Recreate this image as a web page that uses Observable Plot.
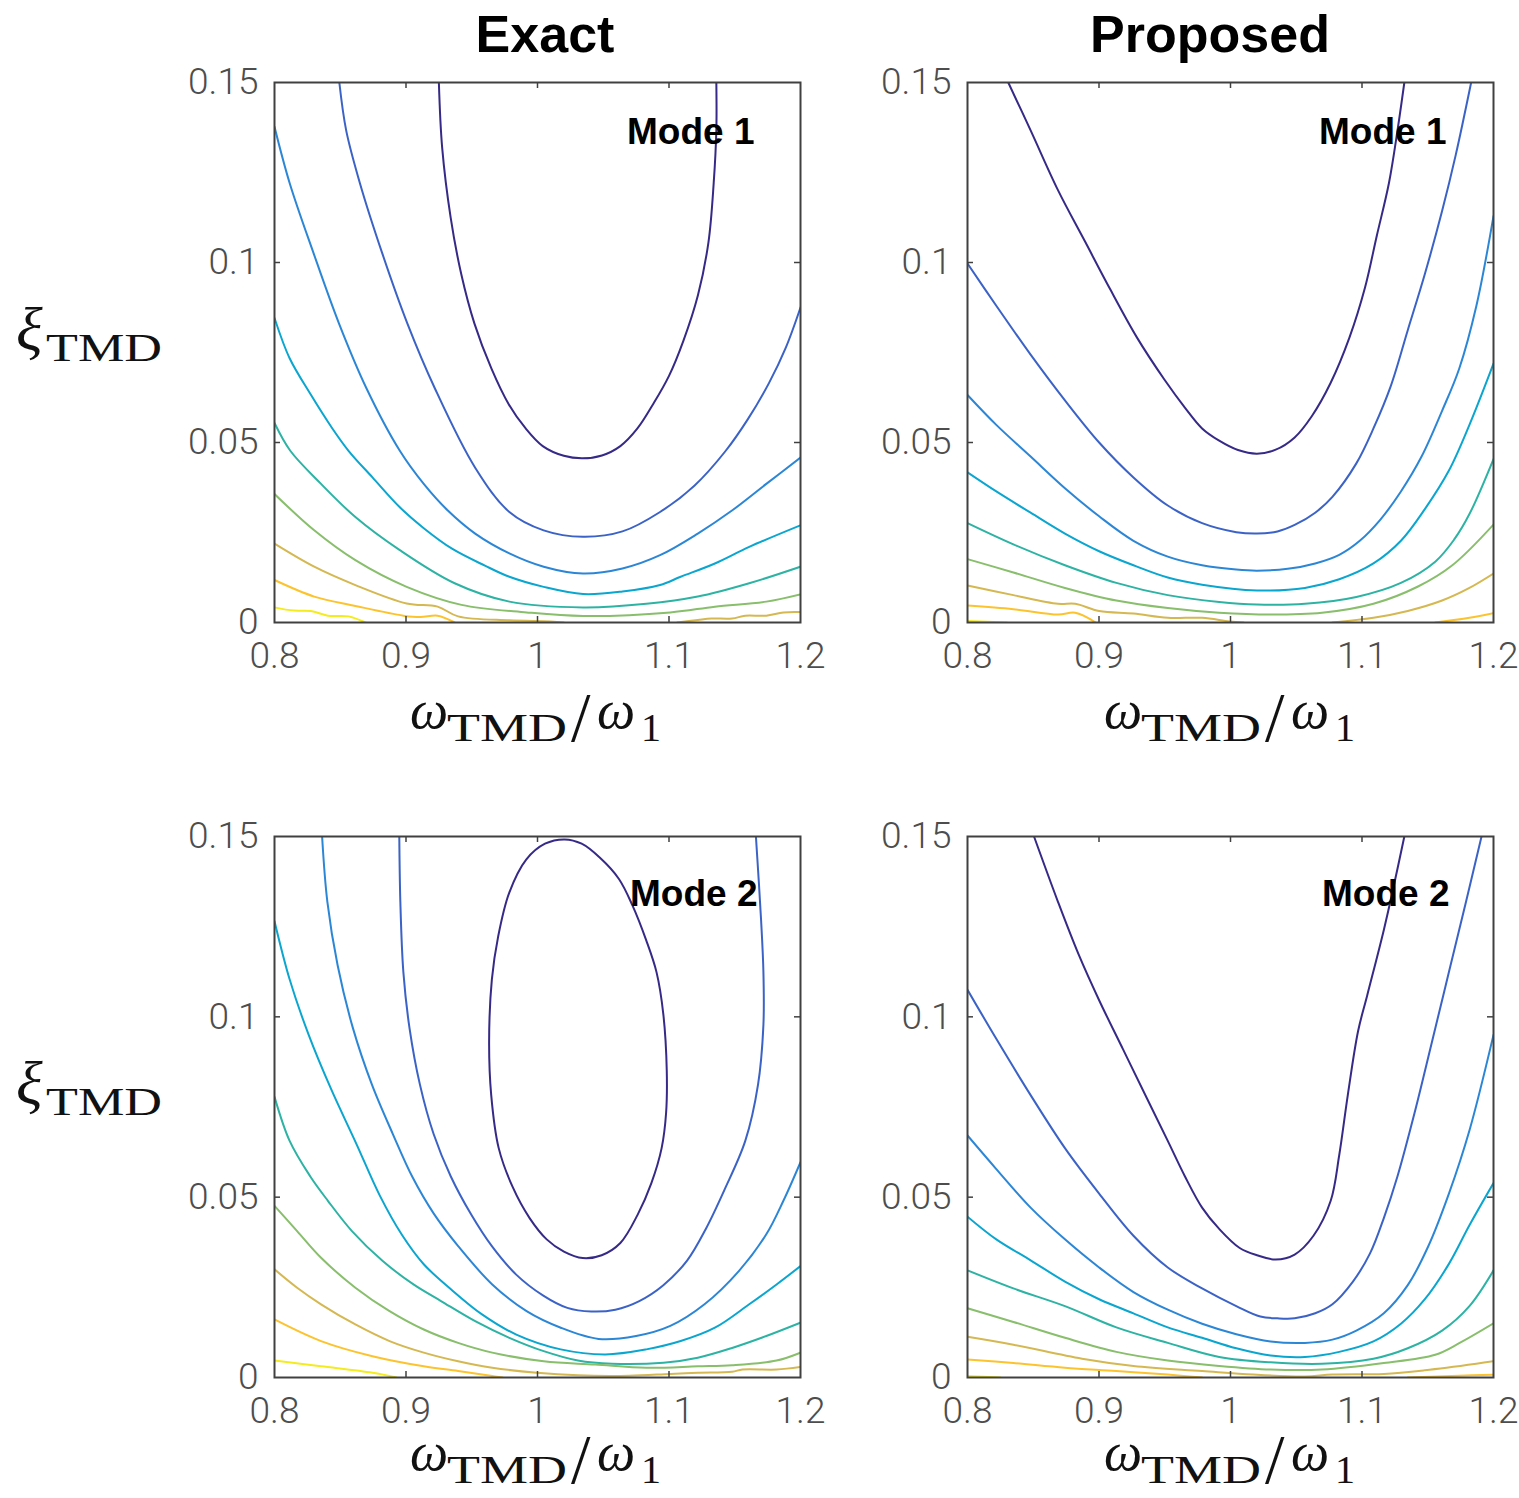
<!DOCTYPE html>
<html>
<head>
<meta charset="utf-8">
<script src="https://cdn.jsdelivr.net/npm/d3@7"></script>
<script src="https://cdn.jsdelivr.net/npm/@observablehq/plot@0.6"></script>
<style>
  body { margin: 0; background: #fff; }
  #page { position: relative; width: 1519px; height: 1498px; background: #fff; overflow: hidden; }
  .panel { position: absolute; }
  .panel svg { max-width: none; overflow: visible; }
  #overlay { position: absolute; left: 0; top: 0; pointer-events: none; }
</style>
</head>
<body>
<div id="page"></div>
<script>
// ---------------- data ----------------
const columnTitles = ["Exact", "Proposed"];
const modeLabels = ["Mode 1", "Mode 2"];
const xTicks = [0.8, 0.9, 1, 1.1, 1.2];
const yTicks = [0, 0.05, 0.1, 0.15];
const innerXTicks = [0.9, 1, 1.1];
const innerYTicks = [0.05, 0.1];
const levels = [0, 1, 2, 3, 4, 5, 6, 7, 8];
const parula = ["#352a87", "#3b62c6", "#2c86d6", "#0ba6cf", "#2db3a4", "#88be6c", "#d5b851", "#fcc32e", "#f4ec1e"];

// each contour segment: [level, [x, y, x, y, ...]]  (x = wTMD/w1, y = xiTMD)
const exactMode1 = [
  [0, [.925,.15, .9275,.1319, .934,.1124, .942,.0968, .952,.0831, .965,.0705, .978,.0607, .991,.0539, 1.004,.049, 1.02,.0463, 1.034,.0456, 1.049,.0464, 1.063,.049, 1.076,.0539, 1.088,.0607, 1.1,.0685, 1.111,.0783, 1.122,.0909, 1.13,.1056, 1.134,.1221, 1.136,.1367, 1.136,.15]],
  [1, [.8493,.15, .8545,.1367, .8649,.1221, .8819,.1026, .9010,.0831, .9220,.0650, .9526,.0430, .9786,.0307, 1.0047,.0256, 1.0346,.0238, 1.0646,.0253, 1.0932,.0307, 1.1193,.0380, 1.1427,.0475, 1.160,.0565, 1.176,.0665, 1.189,.0765, 1.2,.0875]],
  [2, [.8,.1377, .8115,.1221, .8297,.1026, .8490,.0831, .8700,.0650, .8953,.0477, .9135,.0385, .9318,.0311, .9526,.0247, .9786,.0192, 1.0047,.0155, 1.0346,.0136, 1.0646,.015, 1.0932,.0187, 1.1219,.0247, 1.1479,.0311, 1.174,.0385, 1.2,.0458]],
  [3, [.8,.0846, .8115,.0734, .8271,.0636, .844,.0539, .8563,.0477, .8745,.0403, .8953,.032, .9135,.0262, .935,.0205, .96,.0158, .9786,.0127, 1.0047,.0099, 1.0346,.0079, 1.0646,.0086, 1.0932,.0104, 1.1089,.0127, 1.1349,.0164, 1.161,.021, 1.2,.027]],
  [4, [.8,.0554, .812,.0477, .8354,.0385, .8615,.0293, .8953,.0201, .937,.0109, .9786,.0058, 1.0346,.0042, 1.0828,.0052, 1.1219,.0072, 1.161,.0109, 1.2,.0155]],
  [5, [.8,.0357, .8302,.0256, .8615,.0173, .9005,.0099, .9422,.0049, .9917,.0028, 1.0346,.0018, 1.101,.0028, 1.1349,.0044, 1.174,.0058, 1.2,.0078]],
  [6, [.8,.0219, .8302,.0155, .8615,.0104, .9005,.0053, .924,.0044, .9396,.0017, .9786,.0006, 1.01,.0003, 1.02,0]],
  [6, [1.1063,0, 1.1219,.0007, 1.1323,.0011, 1.148,.0011, 1.158,.0019, 1.174,.0019, 1.187,.0028, 1.2,.0029]],
  [7, [.8,.0118, .8302,.0072, .8615,.0046, .898,.0019, .911,.0015, .924,.0019, .937,0]],
  [8, [.8,.0042, .8146,.0033, .8276,.0032, .8406,.0019, .8563,.0017, .8693,0]]
];

const proposedMode1 = [
  [0, [.831,.15, .848,.1367, .8688,.1201, .8897,.1056, .908,.0929, .9288,.0792, .9497,.0675, .9653,.0597, .9784,.0539, .9914,.0505, 1.0057,.0479, 1.0201,.0469, 1.0344,.048, 1.0488,.0514, 1.0618,.0573, 1.0762,.0666, 1.0905,.0792, 1.1022,.0929, 1.1113,.1075, 1.1205,.1221, 1.127,.1367, 1.1322,.15]],
  [1, [.8,.0997, .8219,.088, .848,.0744, .8741,.0617, .9001,.05, .9262,.0403, .9523,.0325, .9784,.0276, 1.0044,.0251, 1.0201,.0247, 1.0357,.0253, 1.0488,.0271, 1.0644,.0305, 1.0775,.0349, 1.0957,.0442, 1.1087,.0539, 1.1218,.0656, 1.1348,.0812, 1.1478,.0968, 1.1609,.1143, 1.1713,.1299, 1.183,.15]],
  [2, [.8,.0632, .8219,.0549, .848,.0461, .8741,.0373, .9001,.0295, .9262,.0227, .9523,.0183, .9784,.0159, 1.0044,.0147, 1.0201,.0144, 1.0435,.0149, 1.0644,.0164, 1.0827,.0188, 1.0983,.0227, 1.114,.0286, 1.1296,.0364, 1.1453,.0461, 1.1609,.0588, 1.1739,.0705, 1.187,.088, 1.2,.1129]],
  [3, [.8,.0417, .8219,.0364, .848,.0305, .8741,.0247, .9001,.0198, .9262,.0159, .9523,.0125, .9784,.0105, 1.0201,.0089, 1.0566,.0096, 1.0827,.012, 1.1087,.0164, 1.1296,.0227, 1.1478,.0315, 1.1661,.0422, 1.1817,.0549, 1.2,.0719]],
  [4, [.8,.0276, .8349,.0217, .8741,.0159, .9132,.011, .9523,.0076, .9914,.0057, 1.0201,.005, 1.0566,.0052, 1.0957,.0071, 1.1296,.011, 1.1557,.0169, 1.17,.023, 1.1818,.0302, 1.2,.0454]],
  [5, [.8,.0176, .8349,.0139, .8741,.0096, .9132,.0061, .9523,.004, .9914,.0027, 1.0305,.0022, 1.0696,.0027, 1.1087,.0052, 1.1426,.01, 1.1687,.0159, 1.2,.0272]],
  [6, [.8,.0103, .8349,.0076, .8688,.0052, .8819,.0052, .9001,.0032, .9262,.0025, .9523,.0013, .9784,.0013, .9992,.0003, 1.01,0]],
  [6, [1.0775,0, 1.1087,.0013, 1.1348,.0032, 1.1609,.0061, 1.1817,.0096, 1.2,.0136]],
  [7, [.8,.0047, .8349,.0037, .8688,.0022, .8819,.0027, .8975,0]],
  [7, [1.1557,0, 1.1817,.0013, 1.2,.0026]],
  [8, [.8,.0004, .83,0]]
];

const exactMode2 = [
  [0, [1.0206,.1492, 1.0336,.148, 1.0475,.1441, 1.0618,.1383, 1.0722,.1309, 1.0827,.1212, 1.0905,.1124, 1.0957,.1007, 1.0983,.0851, 1.0978,.0734, 1.0944,.0636, 1.0866,.0539, 1.0761,.0451, 1.063,.0373, 1.0488,.0339, 1.0344,.0331, 1.0201,.0349, 1.007,.0383, .994,.0442, .981,.0529, .9705,.0636, .9648,.0783, .9632,.0929, .9653,.1104, .97,.1221, .9784,.1343, .9914,.1436, 1.0057,.148, 1.0206,.1492]],
  [1, [.8949,.15, .8957,.1319, .898,.1124, .9027,.0968, .9106,.0812, .921,.0675, .934,.0558, .9497,.0451, .9653,.0364, .9836,.0286, 1.0044,.0227, 1.0227,.0193, 1.0409,.0183, 1.0592,.0188, 1.0774,.0212, 1.0957,.0256, 1.1139,.0325, 1.128,.0412, 1.1420,.0519, 1.1580,.0656, 1.1677,.0812, 1.1718,.0978, 1.1718,.1124, 1.17,.127, 1.1661,.15]],
  [2, [.8362,.15, .8402,.1319, .848,.1143, .8597,.0968, .8741,.0812, .8900,.0675, .9050,.0555, .9210,.0455, .9395,.0365, .9656,.0258, .9917,.0184, 1.0177,.0138, 1.0464,.0107, 1.075,.0115, 1.101,.0143, 1.127,.0203, 1.1531,.0295, 1.174,.0397, 1.187,.049, 1.2,.0597]],
  [3, [.8,.1265, .8115,.1104, .826,.095, .843,.08, .862,.065, .880,.0505, .897,.0395, .9135,.0314, .9344,.0244, .9578,.0175, .9839,.0119, 1.0177,.0078, 1.0516,.0064, 1.0828,.0078, 1.1089,.0101, 1.1349,.0138, 1.161,.0203, 1.1818,.0258, 1.2,.0309]],
  [4, [.8,.0778, .8115,.0656, .8271,.0558, .8406,.049, .8589,.0406, .8823,.0323, .9057,.0258, .9266,.0212, .9526,.0156, .9786,.011, 1.0047,.0073, 1.0307,.0047, 1.0568,.0038, 1.0958,.0041, 1.1219,.0055, 1.148,.0082, 1.174,.0115, 1.2,.0152]],
  [5, [.8,.0476, .8172,.0406, .8354,.0332, .8615,.0249, .8875,.0184, .9135,.0133, .9396,.0096, .9656,.0069, 1.0047,.0045, 1.0438,.0036, 1.0828,.0027, 1.1219,.0031, 1.148,.0034, 1.1818,.0047, 1.2,.0069]],
  [6, [.8,.03, .8172,.0249, .8354,.0203, .8615,.0147, .8875,.0101, .9135,.0069, .9396,.0045, .9656,.0027, .9995,.0013, 1.0307,.0006, 1.0698,.0005, 1.101,.001, 1.1219,.0013, 1.148,.0016, 1.1558,.0022, 1.1818,.0022, 1.2,.0029]],
  [7, [.8,.0161, .8354,.0101, .8745,.0059, .9135,.0031, .9396,.0018, .9656,.0004, .9734,0]],
  [8, [.8,.0047, .8354,.0031, .8745,.0013, .8927,0]]
];

const proposedMode2 = [
  [0, [.8506,.15, .8688,.1319, .8845,.1173, .9001,.1046, .9184,.0909, .9366,.0773, .9523,.0656, .9653,.0558, .9784,.0471, .9914,.0412, 1.007,.0359, 1.0201,.0339, 1.0344,.0327, 1.0488,.0341, 1.0631,.0393, 1.0762,.049, 1.0827,.0617, 1.0892,.0783, 1.0970,.0960, 1.1040,.1060, 1.1166,.1241, 1.1244,.1367, 1.1322,.15]],
  [1, [.8,.1075, .8219,.0939, .848,.0783, .8741,.0636, .9001,.051, .9262,.0393, .9523,.0305, .9784,.0247, 1.0044,.0198, 1.0227,.0169, 1.0357,.0164, 1.0488,.0164, 1.0644,.0178, 1.0775,.0203, 1.0931,.0266, 1.1061,.0344, 1.1166,.0442, 1.127,.0558, 1.14,.0734, 1.1531,.0929, 1.1661,.1124, 1.1791,.1319, 1.1909,.15]],
  [2, [.8,.0671, .8219,.0578, .848,.0471, .8741,.0383, .9001,.0305, .9262,.0237, .9523,.0188, .9784,.0149, 1.0044,.012, 1.0305,.01, 1.0566,.0096, 1.0775,.0105, 1.0957,.013, 1.1166,.0178, 1.1348,.0256, 1.1504,.0364, 1.1661,.051, 1.1817,.0685, 1.2,.095]],
  [3, [.8,.0446, .8219,.0383, .848,.0325, .8741,.0266, .9001,.0217, .9262,.0178, .9523,.0139, .9784,.011, 1.0044,.0081, 1.0305,.0061, 1.0566,.0057, 1.0827,.0071, 1.1087,.01, 1.1296,.0149, 1.1478,.0217, 1.1661,.0315, 1.1817,.0422, 1.2,.0539]],
  [4, [.8,.0297, .8349,.0247, .8741,.0198, .9132,.0139, .9523,.0096, .9914,.0057, 1.0305,.0042, 1.0696,.0038, 1.1087,.0052, 1.1348,.0081, 1.1609,.013, 1.1817,.0198, 1.2,.0297]],
  [5, [.8,.0192, .8349,.0154, .8741,.011, .9132,.0071, .9523,.0047, .9914,.0032, 1.0305,.0022, 1.0696,.0022, 1.1166,.004, 1.1557,.0063, 1.1739,.0095, 1.2,.015]],
  [6, [.8,.0113, .8349,.0091, .8871,.0052, .9262,.0032, .9784,.0018, 1.0175,.0008, 1.0566,.0003, 1.0775,.0008, 1.1166,.001, 1.1478,.002, 1.1869,.0038, 1.2,.0045]],
  [7, [.8,.005, .8349,.004, .8741,.0027, .9132,.0018, .9523,.0008, .9784,0]],
  [7, [1.1348,0, 1.1739,.0005, 1.2,.0008]],
  [8, [.8,.0004, .825,0]]
];

// ---------------- layout ----------------
const ML = 110, MR = 45, MT = 30, MB = 70, PW = 526;
const panels = [
  {lines: exactMode1,    mode: modeLabels[0], left: 274, top: 82,  h: 540, dx: -46, dy: 50},
  {lines: proposedMode1, mode: modeLabels[0], left: 967, top: 82,  h: 540, dx: -47, dy: 50},
  {lines: exactMode2,    mode: modeLabels[1], left: 274, top: 836, h: 541, dx: -43, dy: 58},
  {lines: proposedMode2, mode: modeLabels[1], left: 967, top: 836, h: 541, dx: -44, dy: 58}
];
const axisColor = "#404040";
const tickLabelColor = "#4d4d4d";
const page = document.getElementById("page");

panels.forEach((p) => {
  const openRows = [], closedRows = [];
  p.lines.forEach(([level, flat], seg) => {
    const n = flat.length;
    const closed = flat[0] === flat[n - 2] && flat[1] === flat[n - 1];
    const target = closed ? closedRows : openRows;
    const end = closed ? n - 2 : n;
    for (let i = 0; i < end; i += 2) target.push({seg, level, x: flat[i], y: flat[i + 1]});
  });
  const lineStyle = {x: "x", y: "y", z: "seg", stroke: "level", strokeWidth: 2, clip: true};
  const chart = Plot.plot({
    width: PW + ML + MR,
    height: p.h + MT + MB,
    marginLeft: ML, marginRight: MR, marginTop: MT, marginBottom: MB,
    style: {fontFamily: "Roboto, 'Liberation Sans', sans-serif", fontWeight: 300, background: "transparent", overflow: "visible"},
    x: {domain: [0.8, 1.2], label: null},
    y: {domain: [0, 0.15], label: null},
    color: {type: "ordinal", domain: levels, range: parula},
    marks: [
      Plot.line(openRows, {...lineStyle, curve: "catmull-rom"}),
      Plot.line(closedRows, {...lineStyle, curve: "catmull-rom-closed"}),
      Plot.tickX(innerXTicks, {x: d => d, stroke: axisColor, strokeWidth: 1.5, insetTop: p.h - 6}),
      Plot.tickX(innerXTicks, {x: d => d, stroke: axisColor, strokeWidth: 1.5, insetBottom: p.h - 6}),
      Plot.tickY(innerYTicks, {y: d => d, stroke: axisColor, strokeWidth: 1.5, insetRight: PW - 6}),
      Plot.tickY(innerYTicks, {y: d => d, stroke: axisColor, strokeWidth: 1.5, insetLeft: PW - 6}),
      Plot.frame({stroke: axisColor, strokeWidth: 2}),
      Plot.axisX(xTicks, {anchor: "bottom", tickSize: 0, tickPadding: 19, tickFormat: d => String(d), fontSize: 37, color: tickLabelColor, label: null}),
      Plot.axisY(yTicks, {anchor: "left", tickSize: 0, tickPadding: 16, tickFormat: d => String(d), fontSize: 37, color: tickLabelColor, label: null}),
      Plot.text([p.mode], {text: d => d, frameAnchor: "top-right", textAnchor: "end", lineAnchor: "middle", dx: p.dx, dy: p.dy, fontSize: 37, fontWeight: "bold", fontFamily: "'Liberation Sans', Arial, sans-serif", fill: "#000"})
    ]
  });
  const div = document.createElement("div");
  div.className = "panel";
  div.style.left = (p.left - ML) + "px";
  div.style.top = (p.top - MT) + "px";
  div.appendChild(chart);
  page.appendChild(div);
});

// ---------------- titles and axis labels ----------------
const svg = d3.select(page).append("svg").attr("id", "overlay").attr("width", 1519).attr("height", 1498);
const titleX = [545, 1210];
columnTitles.forEach((t, i) => {
  svg.append("text").attr("x", titleX[i]).attr("y", 52).attr("text-anchor", "middle")
    .style("font-family", "'Liberation Sans', Arial, sans-serif").style("font-weight", "bold").style("font-size", "52px")
    .text(t);
});
const serif = "'Liberation Serif', 'DejaVu Serif', serif";
function xLabel(x0, base) {
  const g = svg.append("g").style("font-family", serif).attr("fill", "#111");
  g.append("text").attr("x", x0).attr("y", base).style("font-style", "italic").style("font-size", "54px").text("ω");
  g.append("text").attr("x", x0 + 37).attr("y", base + 13).style("font-size", "40px").attr("textLength", 120).attr("lengthAdjust", "spacingAndGlyphs").text("TMD");
  g.append("text").attr("x", x0 + 161).attr("y", base + 13).style("font-size", "70px").text("/");
  g.append("text").attr("x", x0 + 187).attr("y", base).style("font-style", "italic").style("font-size", "54px").text("ω");
  g.append("text").attr("x", x0 + 231).attr("y", base + 13).style("font-size", "40px").text("1");
}
function yLabel(x0, base) {
  const g = svg.append("g").style("font-family", serif).attr("fill", "#111");
  g.append("text").attr("x", x0).attr("y", base).style("font-style", "italic").style("font-size", "62px").text("ξ");
  g.append("text").attr("x", x0 + 30).attr("y", base + 11).style("font-size", "40px").attr("textLength", 116).attr("lengthAdjust", "spacingAndGlyphs").text("TMD");
}
xLabel(410, 728);
xLabel(1104, 728);
xLabel(410, 1470);
xLabel(1104, 1470);
yLabel(16, 350);
yLabel(16, 1104);
</script>
</body>
</html>
